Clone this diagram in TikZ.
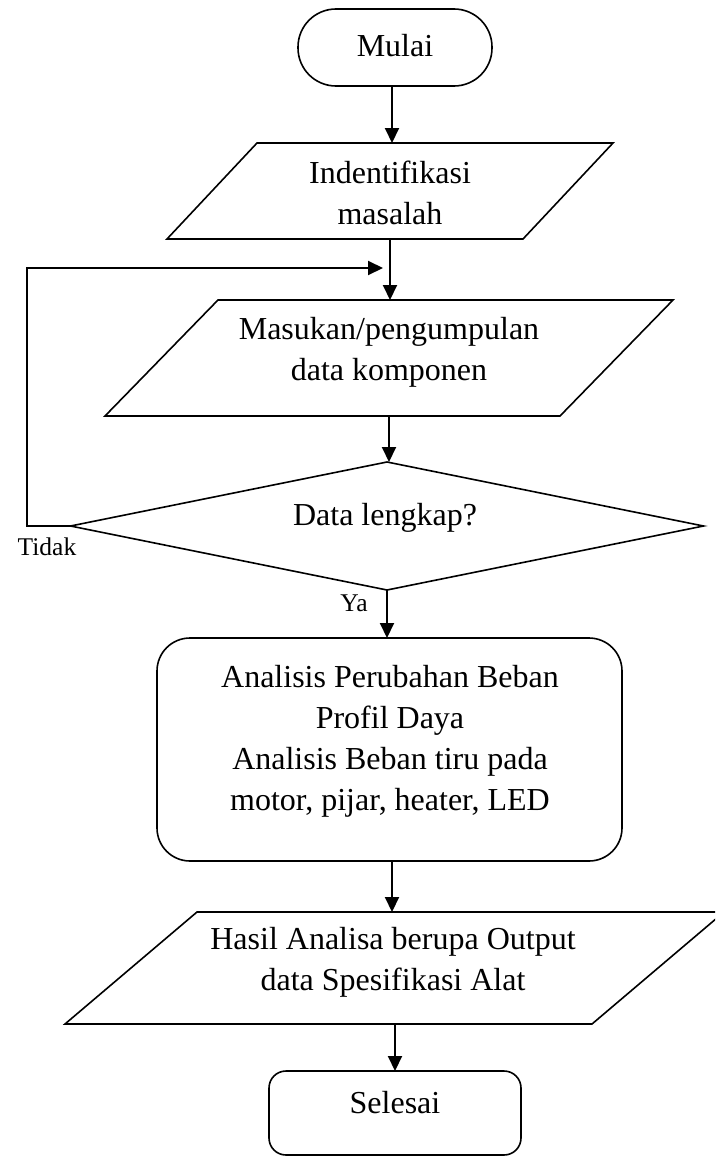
\documentclass[tikz,border=0pt]{standalone}
\usepackage{fontspec}
\setmainfont{Liberation Serif}
\usetikzlibrary{arrows.meta,calc}
\begin{document}
\begin{tikzpicture}[x=1pt,y=-1pt,
  shp/.style={draw=black,line width=1.6pt,fill=white,inner sep=0pt,outer sep=0pt},
  box/.style={draw=none,inner sep=0pt,outer sep=0pt},
  lbl/.style={font=\fontsize{32}{41}\selectfont,align=center,inner sep=0pt},
  small/.style={font=\fontsize{25.5}{30}\selectfont,inner sep=0pt},
  arr/.style={line width=2pt,-{Triangle[length=15pt,width=14pt]}},
  outline/.style={draw=black,line width=1.6pt,line join=miter}]
\useasboundingbox (0,0) rectangle (715,1156);
\clip (0,0) rectangle (715,1156);

% start
\node[shp,rounded corners=38pt,minimum width=194pt,minimum height=77pt] (m) at (395,47.5) {};
\node[lbl] (mt) at (395,46) {Mulai};

% parallelogram 1
\node[box,minimum width=446pt,minimum height=96pt] (p1) at (390,191) {};
\draw[outline] ($(p1.north west)+(90,0)$) -- (p1.north east) -- ($(p1.south east)+(-90,0)$) -- (p1.south west) -- cycle;
\node[lbl] (p1t) at (390,193) {Indentifikasi\\masalah};

% parallelogram 2
\node[box,minimum width=568pt,minimum height=116pt] (p2) at (389,358) {};
\draw[outline] ($(p2.north west)+(113,0)$) -- (p2.north east) -- ($(p2.south east)+(-113,0)$) -- (p2.south west) -- cycle;
\node[lbl] (p2t) at (389,352) {Masukan/pengumpulan\\data komponen};

% decision
\node[box,minimum width=633pt,minimum height=128pt] (d) at (387,526) {};
\draw[outline] (d.north) -- (d.east) -- (d.south) -- (d.west) -- cycle;
\node[lbl] (dt) at (385,518) {Data lengkap?};

% process
\node[shp,rounded corners=33pt,minimum width=465pt,minimum height=223pt] (r) at (389.5,749.5) {};
\node[lbl] (rt) at (390,741.5) {Analisis Perubahan Beban\\Profil Daya\\Analisis Beban tiru pada\\motor, pijar, heater, LED};

% parallelogram 3
\node[box,minimum width=659pt,minimum height=112pt] (p3) at (394.5,968) {};
\draw[outline] ($(p3.north west)+(132,0)$) -- (p3.north east) -- ($(p3.south east)+(-132,0)$) -- (p3.south west) -- cycle;
\node[lbl] (p3t) at (393,962.5) {Hasil Analisa berupa Output\\data Spesifikasi Alat};

% end
\node[shp,rounded corners=17pt,minimum width=252pt,minimum height=84pt] (s) at (395,1113) {};
\node[lbl] (st) at (395,1103) {Selesai};

% connectors
\coordinate (ax) at (392,0);
\draw[arr] (m.south -| ax) -- (p1.north -| ax);
\draw[arr] (p1.south) -- (p1.south |- p2.north);
\draw[arr] (p2.south) -- (p2.south |- d.north);
\draw[arr] (d.south) -- (d.south |- r.north);
\draw[arr] (r.south -| ax) -- (p3.north -| ax);
\draw[arr] (p3.south -| s.north) -- (s.north);

% loop back
\coordinate (lp) at (27,526);
\coordinate (lt) at (383,268);
\draw[arr] (d.west) -- (lp) |- (lt);

\node[small] (tidak) at (47,547) {Tidak};
\node[small] (ya) at (354,603) {Ya};
\end{tikzpicture}
\end{document}
